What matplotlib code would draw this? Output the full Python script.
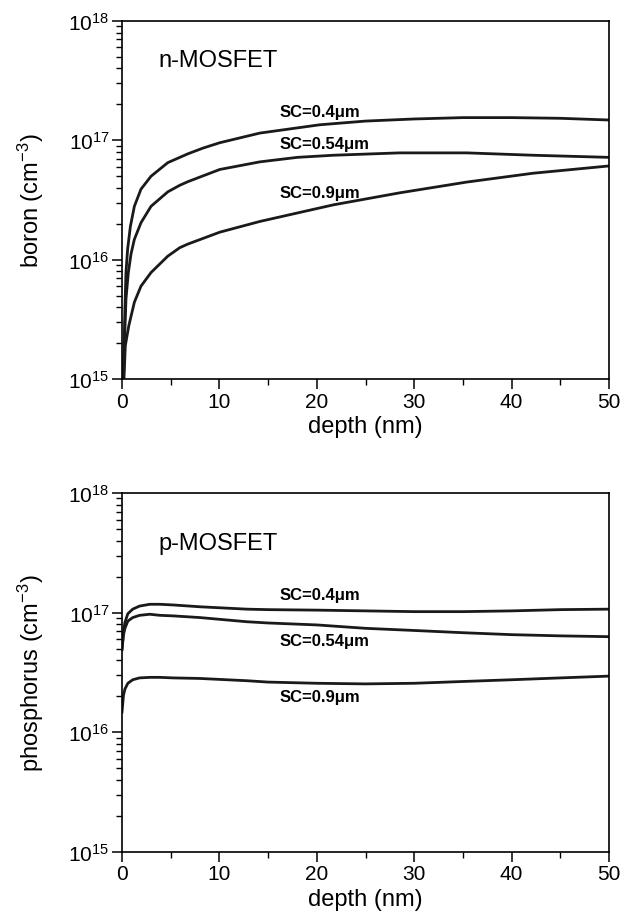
import matplotlib
matplotlib.use("Agg")
import matplotlib.pyplot as plt
from matplotlib.ticker import LogLocator, MultipleLocator, NullFormatter

plt.rcParams['font.family'] = ['Liberation Sans', 'DejaVu Sans']
plt.rcParams['mathtext.default'] = 'regular'

# ---- n-MOSFET: boron profiles (depth in nm, concentration in cm^-3) ----
b_depth_04 = [0.12, 0.3, 0.41, 0.58, 0.86, 1.27, 1.95, 2.98, 4.7, 6.75, 8.3,
              10.04, 14.15, 20.3, 25, 30, 35, 40, 45, 50]
b_sc04 = [7.9e14, 3.9e15, 7.9e15, 1.23e16, 1.9e16, 2.8e16, 3.9e16, 5.0e16, 6.5e16,
          7.7e16, 8.6e16, 9.55e16, 1.15e17, 1.35e17, 1.45e17, 1.51e17, 1.55e17,
          1.55e17, 1.53e17, 1.48e17]

b_depth_054 = [0.12, 0.25, 0.41, 0.65, 0.93, 1.27, 1.95, 2.98, 4.7, 5.93, 6.75,
               10.04, 14.15, 18, 21.7, 28.5, 35.4, 42.2, 50]
b_sc054 = [7.9e14, 2.0e15, 4.7e15, 7.8e15, 1.12e16, 1.48e16, 2.04e16, 2.8e16,
           3.7e16, 4.2e16, 4.5e16, 5.7e16, 6.6e16, 7.2e16, 7.5e16, 7.85e16, 7.85e16,
           7.5e16, 7.2e16]

b_depth_09 = [0.15, 0.34, 0.7, 1.27, 1.95, 2.98, 4.7, 5.93, 6.75, 10.04, 14.15,
              21.7, 28.5, 35.4, 42.2, 50]
b_sc09 = [7.9e14, 1.9e15, 2.8e15, 4.4e15, 6.0e15, 7.8e15, 1.07e16, 1.26e16, 1.35e16,
          1.7e16, 2.09e16, 2.88e16, 3.63e16, 4.47e16, 5.3e16, 6.1e16]

# ---- p-MOSFET: phosphorus profiles ----
p_depth = [0, 0.15, 0.3, 0.6, 1.1, 1.8, 2.85, 3.9, 5.25, 8, 12.8, 15, 20, 25, 30,
           35, 40, 45, 50]
p_sc04 = [5.0e16, 6.8e16, 8.3e16, 9.8e16, 1.07e17, 1.135e17, 1.175e17, 1.175e17,
          1.16e17, 1.12e17, 1.07e17, 1.06e17, 1.05e17, 1.035e17, 1.02e17, 1.02e17,
          1.035e17, 1.06e17, 1.07e17]
p_sc054 = [4.9e16, 6.5e16, 7.4e16, 8.5e16, 9.1e16, 9.5e16, 9.7e16, 9.5e16, 9.4e16,
           9.1e16, 8.4e16, 8.2e16, 7.9e16, 7.4e16, 7.1e16, 6.8e16, 6.55e16, 6.4e16,
           6.3e16]
p_sc09 = [1.48e16, 2.04e16, 2.3e16, 2.57e16, 2.75e16, 2.85e16, 2.88e16, 2.88e16,
          2.85e16, 2.82e16, 2.7e16, 2.63e16, 2.57e16, 2.54e16, 2.57e16, 2.66e16,
          2.75e16, 2.85e16, 2.95e16]

curve_labels = ["SC=0.4\u03bcm", "SC=0.54\u03bcm", "SC=0.9\u03bcm"]

W, H = 625, 920
fig = plt.figure(figsize=(W / 100, H / 100), dpi=100)


def make_axes(top, bottom):
    left, right = 122, 609
    return fig.add_axes([left / W, 1 - bottom / H, (right - left) / W, (bottom - top) / H])


def style(ax, ylabel):
    ax.set_xlim(0, 50)
    ax.set_ylim(1e15, 1e18)
    ax.set_yscale('log')
    ax.yaxis.set_major_locator(LogLocator(base=10, numticks=10))
    ax.yaxis.set_minor_locator(LogLocator(base=10, subs=range(2, 10), numticks=20))
    ax.yaxis.set_minor_formatter(NullFormatter())
    ax.xaxis.set_major_locator(MultipleLocator(10))
    ax.xaxis.set_minor_locator(MultipleLocator(5))
    for s in ax.spines.values():
        s.set_linewidth(1.2)
    ax.tick_params(which='major', direction='out', length=7, width=1.1,
                   labelsize=15, top=False, right=False, pad=2)
    ax.tick_params(which='minor', direction='out', length=4, width=1.0,
                   top=False, right=False)
    ax.set_xlabel("depth (nm)", fontsize=17, labelpad=3)
    ax.set_ylabel(ylabel, fontsize=17, labelpad=16)


lw = 2.0

ax1 = make_axes(22, 380)
ax1.plot(b_depth_04, b_sc04, color='#1a1a1a', lw=lw)
ax1.plot(b_depth_054, b_sc054, color='#1a1a1a', lw=lw)
ax1.plot(b_depth_09, b_sc09, color='#1a1a1a', lw=lw)
style(ax1, "boron (cm$^{-3}$)")
ax1.text(3.7, 10**17.67, "n-MOSFET", fontsize=17, va='center', ha='left')
for lab, yv in zip(curve_labels, [10**17.24, 10**16.97, 10**16.56]):
    ax1.text(16.2, yv, lab, fontsize=12, fontweight='bold', va='center', ha='left')

ax2 = make_axes(494, 853)
ax2.plot(p_depth, p_sc04, color='#1a1a1a', lw=lw)
ax2.plot(p_depth, p_sc054, color='#1a1a1a', lw=lw)
ax2.plot(p_depth, p_sc09, color='#1a1a1a', lw=lw)
style(ax2, "phosphorus (cm$^{-3}$)")
ax2.text(3.7, 10**17.58, "p-MOSFET", fontsize=17, va='center', ha='left')
for lab, yv in zip(curve_labels, [10**17.15, 10**16.77, 10**16.30]):
    ax2.text(16.2, yv, lab, fontsize=12, fontweight='bold', va='center', ha='left')

fig.savefig("out.png", dpi=100)
